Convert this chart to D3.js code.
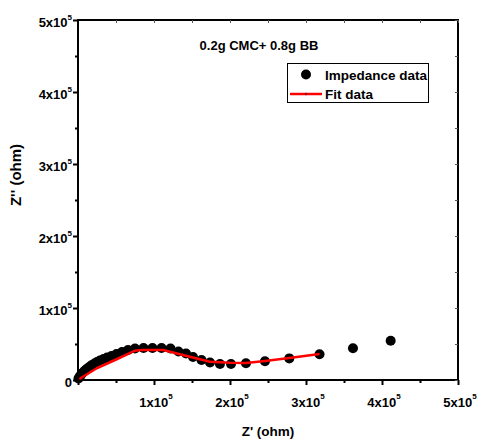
<!DOCTYPE html>
<html>
<head>
<meta charset="utf-8">
<script src="https://cdn.jsdelivr.net/npm/d3@7"></script>
<style>
  body { margin: 0; background: #fff; }
  svg { display: block; }
  text { font-family: "Liberation Sans", Arial, sans-serif; font-weight: bold; fill: #000; }
</style>
</head>
<body>
<svg id="chart" width="478" height="441"></svg>
<script>
// Nyquist plot: measured impedance (Z', Z'') and the equivalent-circuit fit, in ohm
const zReal = [660, 2000, 3300, 4600, 6600, 8600, 10500, 13200, 15800, 18400,
  21700, 25000, 28900, 33600, 38200, 44100, 50700, 57900, 65800, 75000,
  86200, 98000, 109900, 121700, 132200, 142100, 151300, 162500, 173700, 186800,
  201300, 221000, 246000, 278000, 317800, 361800, 411400];
const zImag = [2100, 4200, 6300, 8300, 10400, 12500, 14600, 16700, 18800, 20800,
  22900, 25000, 27100, 29200, 31300, 33300, 36100, 38900, 41700, 43800,
  44400, 44400, 44400, 43800, 39600, 36800, 31900, 27800, 24300, 22200,
  22200, 23200, 26000, 30000, 35700, 44000, 54600];

const fitReal = [1700, 24600, 50900, 75000, 83800, 112200, 143000, 173700, 200000, 221000, 246000, 278000, 317800];
const fitImag = [1400, 16300, 28800, 40700, 41700, 41700, 33300, 25400, 24000, 23600, 26400, 30600, 36100];

const xTickValues = [100000, 200000, 300000, 400000, 500000];
const yTickValues = [0, 100000, 200000, 300000, 400000, 500000];
const minorTickValues = [50000, 150000, 250000, 350000, 450000];
const tickExponent = "5";
const chartTitle = "0.2g CMC+ 0.8g BB";
const xTitle = "Z' (ohm)";
const yTitle = "Z'' (ohm)";
const legendLabels = ["Impedance data", "Fit data"];

const svg = d3.select("#chart");
const plot = { left: 78, right: 458, top: 20, bottom: 380 };

const x = d3.scaleLinear().domain([0, 500000]).range([plot.left, plot.right]);
const y = d3.scaleLinear().domain([0, 500000]).range([plot.bottom, plot.top]);

// Writes "Nx10" with a raised exponent
function sciLabel(sel, v, supDy, supSize) {
  if (v === 0) { sel.append("tspan").text("0"); return; }
  sel.append("tspan").text(d3.format("d")(v / 100000) + "x10");
  sel.append("tspan").attr("dy", supDy).attr("font-size", supSize).text(tickExponent);
}

// Frame
const axisG = svg.append("g");
axisG.append("rect")
  .attr("x", plot.left).attr("y", plot.top)
  .attr("width", plot.right - plot.left).attr("height", plot.bottom - plot.top)
  .attr("fill", "none").attr("stroke", "#000").attr("stroke-width", 2);

// Outer ticks on bottom and left axes
const bottomAxis = d3.axisBottom(x).tickValues(xTickValues.concat([0])).tickSize(5).tickFormat("");
const bottomMinor = d3.axisBottom(x).tickValues(minorTickValues).tickSize(3).tickFormat("");
const leftAxis = d3.axisLeft(y).tickValues(yTickValues).tickSize(5).tickFormat("");
const leftMinor = d3.axisLeft(y).tickValues(minorTickValues).tickSize(3).tickFormat("");
[
  [bottomAxis, `translate(0,${plot.bottom})`],
  [bottomMinor, `translate(0,${plot.bottom})`],
  [leftAxis, `translate(${plot.left},0)`],
  [leftMinor, `translate(${plot.left},0)`]
].forEach(([ax, tr]) => {
  const g = axisG.append("g").attr("transform", tr).call(ax);
  g.select(".domain").remove();
  g.selectAll("line").attr("stroke", "#000").attr("stroke-width", 2);
});

// Small inner ticks on top and right edges
const topAxis = d3.axisBottom(x).tickValues(xTickValues.concat(minorTickValues)).tickSize(3).tickFormat("");
const rightAxis = d3.axisRight(y).tickValues(yTickValues.concat(minorTickValues)).tickSize(-3).tickFormat("");
[[topAxis, `translate(0,${plot.top})`], [rightAxis, `translate(${plot.right},0)`]].forEach(([ax, tr]) => {
  const g = axisG.append("g").attr("transform", tr).call(ax);
  g.select(".domain").remove();
  g.selectAll("line").attr("stroke", "#555").attr("stroke-width", 1);
});

// Tick labels
xTickValues.forEach(v => {
  const t = svg.append("text")
    .attr("x", x(v) + 2).attr("y", plot.bottom + 27)
    .attr("text-anchor", "middle").attr("font-size", 13);
  sciLabel(t, v, -8, 8);
});
yTickValues.forEach(v => {
  const t = svg.append("text")
    .attr("x", plot.left - 6).attr("y", y(v) + 6.5)
    .attr("text-anchor", "end").attr("font-size", 13);
  sciLabel(t, v, -7, 8);
});

// Axis titles
svg.append("text")
  .attr("x", 268).attr("y", 436)
  .attr("text-anchor", "middle").attr("font-size", 13.5)
  .text(xTitle);
svg.append("text")
  .attr("transform", "translate(21,175) rotate(-90)")
  .attr("text-anchor", "middle").attr("font-size", 15)
  .text(yTitle);

// Measured points
svg.append("g").selectAll("circle")
  .data(zReal.map((r, i) => [r, zImag[i]]))
  .join("circle")
  .attr("cx", d => x(d[0])).attr("cy", d => y(d[1]))
  .attr("r", 5).attr("fill", "#000");

// Fitted curve
const line = d3.line().x(d => x(d[0])).y(d => y(d[1]));
svg.append("path")
  .datum(fitReal.map((r, i) => [r, fitImag[i]]))
  .attr("d", line)
  .attr("fill", "none").attr("stroke", "#ff0000").attr("stroke-width", 2.5)
  .attr("stroke-linejoin", "round");

// Sample label
svg.append("text")
  .attr("x", 259).attr("y", 49.5)
  .attr("text-anchor", "middle").attr("font-size", 13)
  .text(chartTitle);

// Legend
const lg = svg.append("g");
lg.append("rect")
  .attr("x", 287.5).attr("y", 63.5).attr("width", 141).attr("height", 39)
  .attr("fill", "#fff").attr("stroke", "#000").attr("stroke-width", 1);
lg.append("circle").attr("cx", 306).attr("cy", 74.5).attr("r", 5).attr("fill", "#000");
lg.append("line")
  .attr("x1", 290).attr("x2", 322).attr("y1", 94).attr("y2", 94)
  .attr("stroke", "#ff0000").attr("stroke-width", 2.5);
lg.append("circle").attr("cx", 306).attr("cy", 94).attr("r", 1.3).attr("fill", "#a00000");
lg.selectAll("text.lab")
  .data(legendLabels)
  .join("text")
  .attr("class", "lab")
  .attr("x", 325).attr("y", (d, i) => 79.5 + i * 19)
  .attr("font-size", 13.5)
  .text(d => d);
</script>
</body>
</html>
